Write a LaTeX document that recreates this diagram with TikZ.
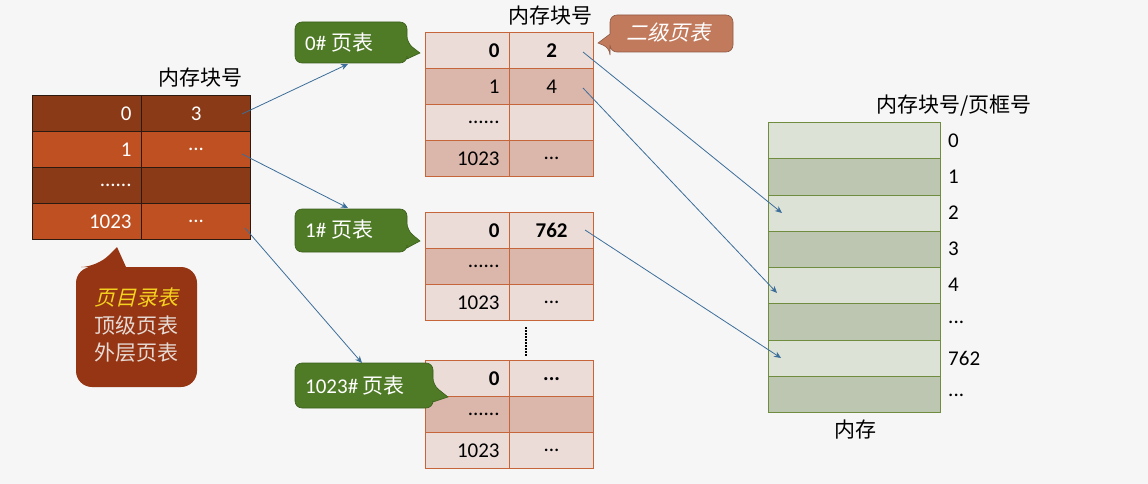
\documentclass[tikz,border=0pt]{standalone}
\usepackage{fontspec}
\setmainfont{Carlito}
\newfontfamily\cjk{Noto Sans CJK SC}
\newfontfamily\cjkit[FakeSlant=0.25]{Noto Sans CJK SC}
\usetikzlibrary{arrows.meta}
\definecolor{bg}{HTML}{F6F6F6}
\definecolor{topdark}{HTML}{8A3A17}
\definecolor{toporange}{HTML}{BE5022}
\definecolor{topline}{HTML}{2B1A10}
\definecolor{callbrown}{HTML}{963514}
\definecolor{calltxt}{HTML}{E6DAD4}
\definecolor{callyellow}{HTML}{F5D21E}
\definecolor{seclight}{HTML}{EBDCD8}
\definecolor{secdark}{HTML}{DBB6AB}
\definecolor{secline}{HTML}{C6643A}
\definecolor{memlight}{HTML}{DDE2D6}
\definecolor{memdark}{HTML}{BDC6B0}
\definecolor{memline}{HTML}{6F8C3F}
\definecolor{greenc}{HTML}{4F7B26}
\definecolor{greenb}{HTML}{3B5E1C}
\definecolor{orangec}{HTML}{C27A5C}
\definecolor{orangeb}{HTML}{8E5A45}
\definecolor{arrowc}{HTML}{3C6E99}
\begin{document}
\begin{tikzpicture}[x=1pt,y=-1pt,
  cjktxt/.style={font=\cjk\fontsize{21}{25}\selectfont, inner sep=0pt},
  topcell/.style={draw=topline, line width=1.2pt, minimum height=36pt, inner xsep=10pt, inner ysep=0pt, text width=89pt, text=white, anchor=north west, font=\fontsize{21}{25}\selectfont},
  tl/.style={topcell, align=right},
  tr/.style={topcell, align=center},
  seccell/.style={draw=secline, line width=1.2pt, minimum height=36pt, inner xsep=10pt, inner ysep=0pt, text width=64pt, anchor=north west, font=\fontsize{21}{25}\selectfont},
  sl/.style={seccell, align=right},
  sr/.style={seccell, align=center},
  memcell/.style={draw=memline, line width=1.2pt, minimum width=172pt, minimum height=36.25pt, inner sep=0pt, anchor=north west},
  memlab/.style={font=\fontsize{21}{25}\selectfont, inner sep=0pt, anchor=west},
  arr/.style={draw=arrowc, line width=0.8pt, -{Stealth[length=7pt,width=6pt]}},
  calltext/.style={font=\fontsize{21}{25}\selectfont, text=white, inner sep=0pt, anchor=west}
]
\path[fill=bg] (0,0) rectangle (1148,484);

% ---------- top-level page table ----------
\node[cjktxt] (hdrA) at (200,78) {内存块号};
\node[tl, fill=topdark]   (p0a) at (32,95)  {0};
\node[tr, fill=topdark]   (p0b) at (141,95) {3};
\node[tl, fill=toporange] (p1a) at (32,131) {1};
\node[tr, fill=toporange] (p1b) at (141,131) {...};
\node[tl, fill=topdark]   (p2a) at (32,167) {......};
\node[tr, fill=topdark]   (p2b) at (141,167) {};
\node[tl, fill=toporange] (p3a) at (32,203) {1023};
\node[tr, fill=toporange] (p3b) at (141,203) {...};

% callout: page directory
\fill[callbrown, rounded corners=16pt] (76,267) -- (97,267) [sharp corners] -- (117,247) -- (126,267) [rounded corners=16pt] -- (197,267) -- (197,387) -- (76,387) -- cycle;
\node[font=\cjkit\fontsize{21}{25}\selectfont, text=callyellow, inner sep=0pt] (dirA) at (136,298) {页目录表};
\node[font=\cjk\fontsize{21}{25}\selectfont, text=calltxt, inner sep=0pt] (dirB) at (136,326) {顶级页表};
\node[font=\cjk\fontsize{21}{25}\selectfont, text=calltxt, inner sep=0pt] (dirC) at (136,353) {外层页表};

% ---------- second-level table 0 ----------
\node[cjktxt] (hdrB) at (550,16) {内存块号};
\node[sl, fill=seclight] (a0a) at (425,32)  {\textbf{0}};
\node[sr, fill=seclight] (a0b) at (509,32)  {\textbf{2}};
\node[sl, fill=secdark]  (a1a) at (425,68)  {1};
\node[sr, fill=secdark]  (a1b) at (509,68)  {4};
\node[sl, fill=seclight] (a2a) at (425,104) {......};
\node[sr, fill=seclight] (a2b) at (509,104) {};
\node[sl, fill=secdark]  (a3a) at (425,140) {1023};
\node[sr, fill=secdark]  (a3b) at (509,140) {...};

% ---------- second-level table 1 ----------
\node[sl, fill=seclight] (b0a) at (425,212) {\textbf{0}};
\node[sr, fill=seclight] (b0b) at (509,212) {\textbf{762}};
\node[sl, fill=secdark]  (b1a) at (425,248) {......};
\node[sr, fill=secdark]  (b1b) at (509,248) {};
\node[sl, fill=seclight] (b2a) at (425,284) {1023};
\node[sr, fill=seclight] (b2b) at (509,284) {...};

\draw[line width=2pt, dash pattern=on 1.5pt off 1.5pt] (526,327) -- (526,356);

% ---------- second-level table 1023 ----------
\node[sl, fill=seclight] (c0a) at (425,360) {\textbf{0}};
\node[sr, fill=seclight] (c0b) at (509,360) {\textbf{...}};
\node[sl, fill=secdark]  (c1a) at (425,396) {......};
\node[sr, fill=secdark]  (c1b) at (509,396) {};
\node[sl, fill=seclight] (c2a) at (425,432) {1023};
\node[sr, fill=seclight] (c2b) at (509,432) {...};

% ---------- callouts ----------
\fill[greenc, draw=greenb, line width=0.6pt, rounded corners=7pt] (295,22) -- (407,22) -- (407,43) [sharp corners] -- (420,53) -- (407,59) [rounded corners=7pt] -- (407,63) -- (295,63) -- cycle;
\node[calltext] (g0) at (305,43) {0\# {\cjk 页表}};

\fill[greenc, draw=greenb, line width=0.6pt, rounded corners=7pt] (295,209) -- (407,209) -- (407,230) [sharp corners] -- (420,241) -- (407,248) [rounded corners=7pt] -- (407,252) -- (295,252) -- cycle;
\node[calltext] (g1) at (305,230) {1\# {\cjk 页表}};

\fill[greenc, draw=greenb, line width=0.6pt, rounded corners=7pt] (295,363) -- (433,363) -- (433,385) [sharp corners] -- (448,397) -- (433,402) [rounded corners=7pt] -- (433,408) -- (295,408) -- cycle;
\node[calltext] (g2) at (305,386) {1023\# {\cjk 页表}};

\fill[orangec, draw=orangeb, line width=0.6pt, rounded corners=7pt] (610,15) -- (733,15) -- (733,52) -- (610,52) -- (610,48) [sharp corners] -- (598,43) -- (610,34) [rounded corners=7pt] -- cycle;
\node[font=\cjkit\fontsize{21}{25}\selectfont, text=white, inner sep=0pt] (lvl2) at (668,33) {二级页表};

% ---------- memory ----------
\node[cjktxt] (hdrC) at (954,106) {内存块号/页框号};
\node[memcell, fill=memlight] (m0) at (768,122)    {};
\node[memcell, fill=memdark]  (m1) at (768,158.25) {};
\node[memcell, fill=memlight] (m2) at (768,194.5)  {};
\node[memcell, fill=memdark]  (m3) at (768,230.75) {};
\node[memcell, fill=memlight] (m4) at (768,267)    {};
\node[memcell, fill=memdark]  (m5) at (768,303.25) {};
\node[memcell, fill=memlight] (m6) at (768,339.5)  {};
\node[memcell, fill=memdark]  (m7) at (768,375.75) {};
\node[memlab] (n0) at (948,141) {0};
\node[memlab] (n1) at (948,177) {1};
\node[memlab] (n2) at (948,213) {2};
\node[memlab] (n3) at (948,249) {3};
\node[memlab] (n4) at (948,285) {4};
\node[memlab] (n5) at (948,322) {...};
\node[memlab] (n6) at (948,358) {762};
\node[memlab] (n7) at (948,395) {...};
\node[cjktxt] (memt) at (855,430) {内存};

% ---------- arrows ----------
\coordinate (s0) at (242,114);
\coordinate (e0) at (348,64);
\coordinate (s1) at (242,154);
\coordinate (e1) at (348,208);
\coordinate (s3) at (245,228);
\coordinate (e3) at (362,363);
\coordinate (sa0) at (583,52);
\coordinate (ea0) at (782,213);
\coordinate (sa1) at (583,88);
\coordinate (ea1) at (777,293);
\coordinate (sb0) at (585,230);
\coordinate (eb0) at (781,358);
\draw[arr] (s0) -- (e0);
\draw[arr] (s1) -- (e1);
\draw[arr] (s3) -- (e3);
\draw[arr] (sa0) -- (ea0);
\draw[arr] (sa1) -- (ea1);
\draw[arr] (sb0) -- (eb0);
\end{tikzpicture}
\end{document}
